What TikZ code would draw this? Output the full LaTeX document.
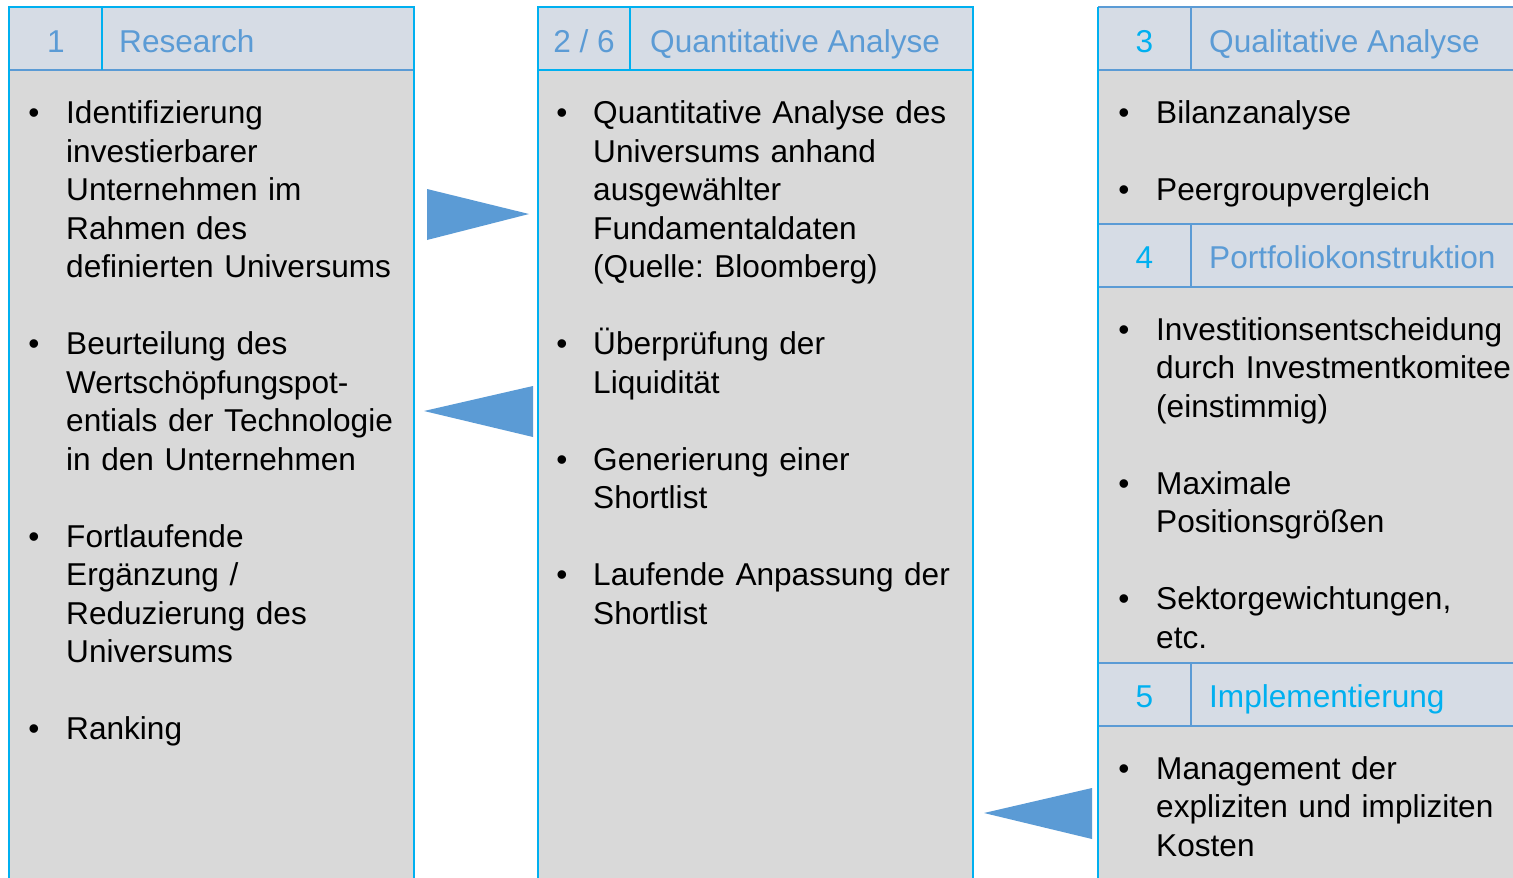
\documentclass[tikz,border=0pt]{standalone}
\usepackage{fontspec}
\setmainfont{Liberation Sans}
\frenchspacing
\definecolor{cyanb}{HTML}{00B0F0}
\definecolor{blueb}{HTML}{5B9BD5}
\definecolor{hdrfill}{HTML}{D6DCE5}
\definecolor{bodyfill}{HTML}{D9D9D9}
\begin{document}
\begin{tikzpicture}[x=1pt,y=-1pt,
  bigfont/.style={font=\fontsize{31.6}{38.5}\selectfont\frenchspacing},
  txt/.style={bigfont, anchor=base west, inner sep=0pt, align=left, text width=470pt},
  bul/.style={bigfont, anchor=base, inner sep=0pt},
  num/.style={bigfont, anchor=base, inner sep=0pt},
  ttl/.style={bigfont, anchor=base west, inner sep=0pt},
  outer/.style={draw=cyanb, line width=2.5pt},
  inner/.style={draw=blueb, line width=2pt},
  innercy/.style={draw=cyanb, line width=2pt},
  tri/.style={fill=blueb, draw=none}]
\clip (0,0) rectangle (1513,878);
\fill[white] (0,0) rectangle (1513,878);

% ---------- column 1 ----------
\fill[bodyfill] (9,7) rectangle (414,900);
\fill[hdrfill] (9,7) rectangle (414,70);
\draw[inner] (9,70) -- (414,70);
\draw[innercy] (102,7) -- (102,70);
\draw[outer] (9,900) -- (9,7) -- (414,7) -- (414,900);
\node[num, text=blueb] (n1) at (56,52) {1};
\node[ttl, text=blueb] (t1) at (119,52) {Research};

\node[bul] (b11) at (34,123.5) {•};
\node[txt] (c11) at (66,123.5) {Identifizierung\\investierbarer\\Unternehmen im\\Rahmen des\\definierten Universums};
\node[bul] (b12) at (34,354.5) {•};
\node[txt] (c12) at (66,354.5) {Beurteilung des\\Wertschöpfungspot-\\entials der Technologie\\in den Unternehmen};
\node[bul] (b13) at (34,547) {•};
\node[txt] (c13) at (66,547) {Fortlaufende\\Ergänzung /\\Reduzierung des\\Universums};
\node[bul] (b14) at (34,739.5) {•};
\node[txt] (c14) at (66,739.5) {Ranking};

% ---------- column 2 ----------
\fill[bodyfill] (538,7) rectangle (973,900);
\fill[hdrfill] (538,7) rectangle (973,70);
\draw[innercy] (538,70) -- (973,70);
\draw[innercy] (630,7) -- (630,70);
\draw[outer] (538,900) -- (538,7) -- (973,7) -- (973,900);
\node[num, text=blueb] (n2) at (584,52) {2 / 6};
\node[ttl, text=blueb] (t2) at (650,52) {Quantitative Analyse};

\node[bul] (b21) at (562,123.5) {•};
\node[txt] (c21) at (593,123.5) {Quantitative Analyse des\\Universums anhand\\ausgewählter\\Fundamentaldaten\\(Quelle: Bloomberg)};
\node[bul] (b22) at (562,354.5) {•};
\node[txt] (c22) at (593,354.5) {Überprüfung der\\Liquidität};
\node[bul] (b23) at (562,470) {•};
\node[txt] (c23) at (593,470) {Generierung einer\\Shortlist};
\node[bul] (b24) at (562,585.5) {•};
\node[txt] (c24) at (593,585.5) {Laufende Anpassung der\\Shortlist};

% ---------- column 3 ----------
\fill[bodyfill] (1098,7) rectangle (1530,900);
\fill[hdrfill] (1098,7) rectangle (1530,70);
\fill[hdrfill] (1098,224) rectangle (1530,287);
\fill[hdrfill] (1098,663) rectangle (1530,726);
\draw[inner] (1098,7) -- (1530,7);
\draw[inner] (1098,70) -- (1530,70);
\draw[inner] (1191,7) -- (1191,70);
\draw[inner] (1098,224) -- (1530,224);
\draw[inner] (1098,287) -- (1530,287);
\draw[inner] (1191,224) -- (1191,287);
\draw[inner] (1098,663) -- (1530,663);
\draw[inner] (1098,726) -- (1530,726);
\draw[inner] (1191,663) -- (1191,726);
\draw[outer] (1098,900) -- (1098,7);

\node[num, text=cyanb] (n3) at (1144.5,52) {3};
\node[ttl, text=blueb] (t3) at (1209,52) {Qualitative Analyse};
\node[num, text=cyanb] (n4) at (1144.5,268) {4};
\node[ttl, text=blueb] (t4) at (1209,268) {Portfoliokonstruktion};
\node[num, text=cyanb] (n5) at (1144.5,707) {5};
\node[ttl, text=cyanb] (t5) at (1209,707) {Implementierung};

\node[bul] (b31) at (1124,123.5) {•};
\node[txt] (c31) at (1156,123.5) {Bilanzanalyse};
\node[bul] (b32) at (1124,200.5) {•};
\node[txt] (c32) at (1156,200.5) {Peergroupvergleich};
\node[bul] (b41) at (1124,340) {•};
\node[txt] (c41) at (1156,340) {Investitionsentscheidung\\durch Investmentkomitee\\(einstimmig)};
\node[bul] (b42) at (1124,494) {•};
\node[txt] (c42) at (1156,494) {Maximale\\Positionsgrößen};
\node[bul] (b43) at (1124,609.5) {•};
\node[txt] (c43) at (1156,609.5) {Sektorgewichtungen,\\etc.};
\node[bul] (b51) at (1124,779) {•};
\node[txt] (c51) at (1156,779) {Management der\\expliziten und impliziten\\Kosten};

% ---------- arrows ----------
\fill[tri] (427,189) -- (529,214) -- (427,240) -- cycle;
\fill[tri] (533,386) -- (424,411) -- (533,437) -- cycle;
\fill[tri] (1092,788) -- (984,813) -- (1092,839) -- cycle;
\end{tikzpicture}
\end{document}
